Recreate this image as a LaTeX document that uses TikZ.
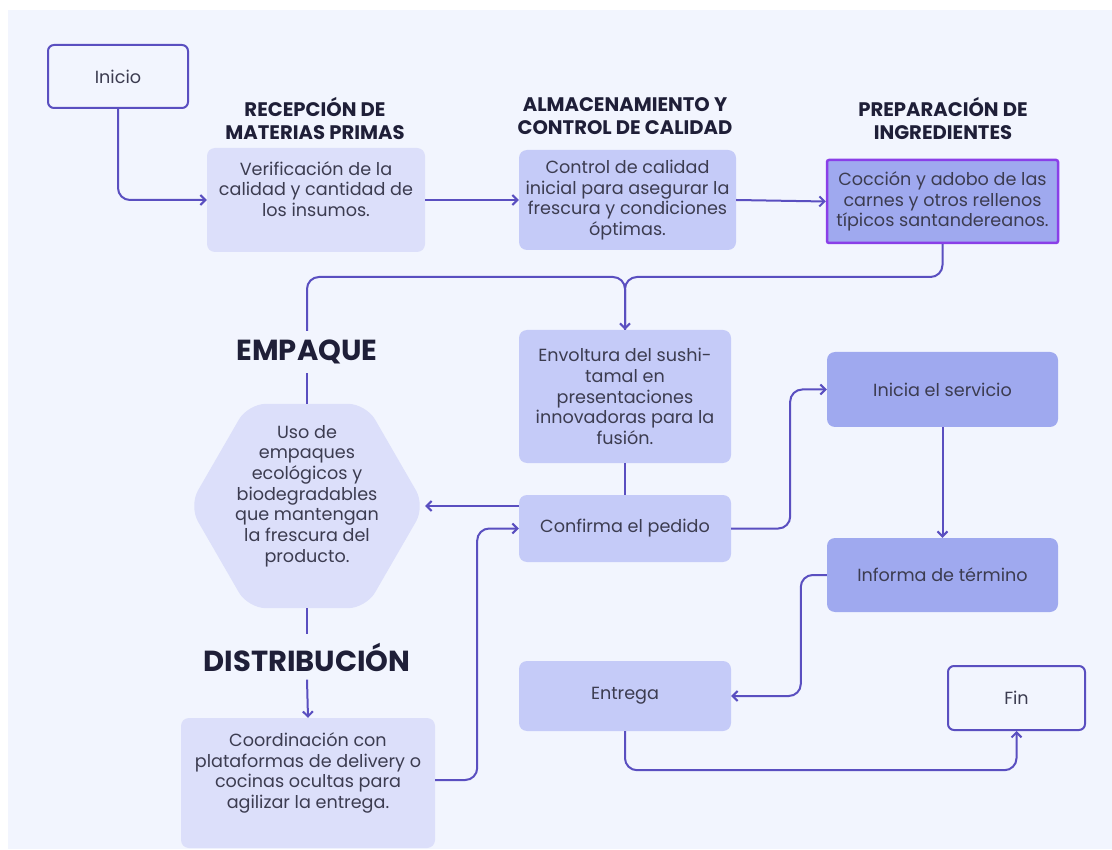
\documentclass[tikz,border=0pt]{standalone}
\usepackage{fontspec}
\setmainfont{Poppins}
\usetikzlibrary{arrows.meta,shapes.geometric,calc}
\definecolor{bg}{HTML}{F2F5FE}
\definecolor{lightbox}{HTML}{DCDFFA}
\definecolor{midbox}{HTML}{C5CBF8}
\definecolor{darkbox}{HTML}{9FA9EF}
\definecolor{linec}{HTML}{5A4FC0}
\definecolor{violetc}{HTML}{8A3FE8}
\definecolor{txtc}{HTML}{3C3C50}
\definecolor{ttlc}{HTML}{1F1F38}
\tikzset{
  box/.style={rounded corners=8pt, inner sep=0pt, text=txtc, align=center,
    font=\fontsize{17.6}{20.7}\selectfont},
  termbox/.style={box, draw=linec, line width=2pt, fill=bg, rounded corners=6pt},
  bodytxt/.style={text=txtc, align=center, inner sep=0pt, font=\fontsize{17.6}{20.7}\selectfont},
  ttl/.style={text=ttlc, align=center, inner sep=0pt, font=\fontsize{19.6}{23}\selectfont\bfseries},
  bigttl/.style={text=ttlc, inner sep=0pt, font=\fontsize{29}{32}\selectfont\bfseries},
  conn/.style={draw=linec, line width=2pt, rounded corners=12pt},
  arr/.style={-{Straight Barb[length=5pt,width=10pt,line width=2pt]}},
}
\begin{document}
\begin{tikzpicture}[x=1pt,y=-1pt]
\fill[white] (0,0) rectangle (1112,850);
\useasboundingbox (0,0) rectangle (1112,850);
\fill[bg] (8,10) rectangle (1112,849);

% titles
\node[ttl] (t1) at (315,118.5) {RECEPCIÓN DE\\MATERIAS PRIMAS};
\node[ttl] (t2) at (625,116.5) {ALMACENAMIENTO Y\\CONTROL DE CALIDAD};
\node[ttl] (t3) at (943,118.5) {PREPARACIÓN DE\\INGREDIENTES};

% boxes
\node[termbox, minimum width=140pt, minimum height=63pt] (inicio) at (118,76.5) {Inicio};
\node[box, fill=lightbox, minimum width=218pt, minimum height=104pt] (b1) at (316,200) {};
\node[bodytxt] (b1t) at (316,189) {Verificación de la\\calidad y cantidad de\\los insumos.};
\node[box, fill=midbox, minimum width=217pt, minimum height=100pt] (b2) at (627.5,200)
  {Control de calidad\\inicial para asegurar la\\frescura y condiciones\\óptimas.};
\node[box, fill=darkbox, draw=violetc, line width=2.5pt, rounded corners=2pt,
  minimum width=231pt, minimum height=83pt] (b3) at (942.5,201.5)
  {Cocción y adobo de las\\carnes y otros rellenos\\típicos santandereanos.};
\node[box, fill=midbox, minimum width=212pt, minimum height=133pt] (env) at (625,396.5)
  {Envoltura del sushi-\\tamal en\\presentaciones\\innovadoras para la\\fusión.};
\node[box, fill=midbox, minimum width=212pt, minimum height=67pt] (conf) at (625,528.5)
  {Confirma el pedido};
\node[box, fill=darkbox, minimum width=231pt, minimum height=75pt] (ini) at (942.5,389.5)
  {Inicia el servicio};
\node[box, fill=darkbox, minimum width=231pt, minimum height=74pt] (inf) at (942.5,575)
  {Informa de término};
\node[box, fill=midbox, minimum width=212pt, minimum height=70pt] (ent) at (625,696)
  {Entrega};
\node[termbox, minimum width=137pt, minimum height=64pt] (fin) at (1016.5,698) {Fin};
\node[box, fill=lightbox, minimum width=254pt, minimum height=130pt] (coord) at (308,783) {};
\node[bodytxt] (coordt) at (308,773)
  {Coordinación con\\plataformas de delivery o\\cocinas ocultas para\\agilizar la entrega.};

% hexagon
\node[regular polygon, regular polygon sides=6, minimum size=236pt, inner sep=0pt,
  fill=lightbox, rounded corners=18pt] (hex) at (307,506) {};
\node[bodytxt] (hext) at (307,496)
  {Uso de\\empaques\\ecológicos y\\biodegradables\\que mantengan\\la frescura del\\producto.};

% big labels
\node[bigttl, minimum height=42pt] (emp) at (307,352) {EMPAQUE};
\node[bigttl, minimum height=45pt] (dist) at (307,657) {DISTRIBUCIÓN};

% connectors
\coordinate (j) at (625,277);
\draw[conn, arr] (inicio.south) |- (b1.west);
\draw[conn, arr] (b1.east) -- (b2.west);
\draw[conn, arr] (b2.east) -- (b3.west);
\draw[conn] (emp.north) |- (j) -- (env.north);
\draw[conn, arr] (b3.south) |- (j) -- (env.north);
\draw[conn] (emp.south) -- (hex.north);
\draw[conn] (env.south) -- (conf.north);
\draw[conn, arr] (conf.west |- hex.east) -- (hex.east);
\draw[conn] (hex.south) -- (dist.north);
\draw[conn, arr] (dist.south) -- (coord.north);
\draw[conn, arr] ($(coord.east)+(0,-3)$) -- ++(42,0) |- (conf.west);
\draw[conn, arr] (conf.east) -- ++(59,0) |- (ini.west);
\draw[conn, arr] (ini.south) -- (inf.north);
\draw[conn, arr] (inf.west) -- ++(-26,0) |- (ent.east);
\draw[conn, arr] (ent.south) -- ++(0,39) -| (fin.south);
\end{tikzpicture}
\end{document}
